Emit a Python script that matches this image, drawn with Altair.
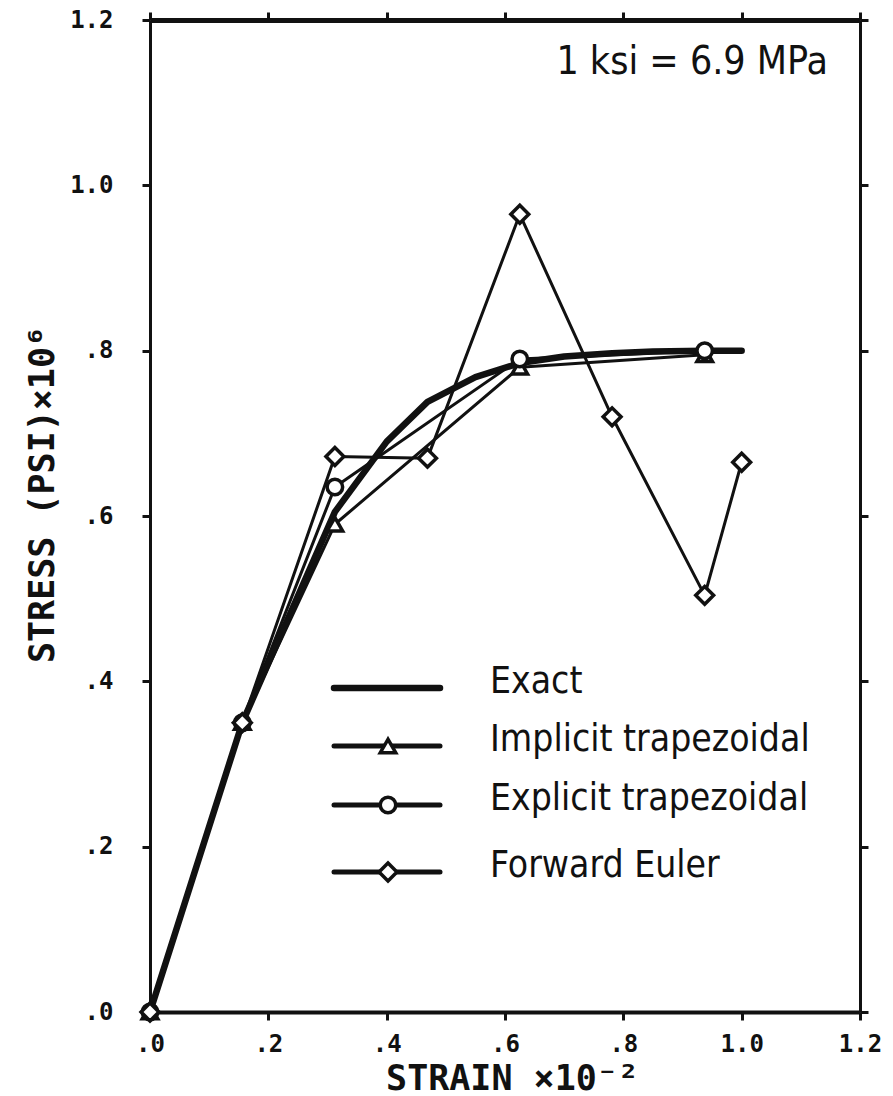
import altair as alt
import pandas as pd

# Strain (x 10^-2) and stress (psi x 10^6) for each solution method
exact_strain = [0.0, 0.156, 0.3125, 0.40, 0.469, 0.55, 0.625, 0.70, 0.781, 0.85, 0.9375, 1.0]
exact_stress = [0.0, 0.35, 0.605, 0.69, 0.738, 0.768, 0.785, 0.793, 0.797, 0.799, 0.80, 0.80]

implicit_strain = [0.0, 0.156, 0.3125, 0.625, 0.9375]
implicit_stress = [0.0, 0.35, 0.59, 0.78, 0.795]

explicit_strain = [0.0, 0.156, 0.3125, 0.625, 0.9375]
explicit_stress = [0.0, 0.35, 0.635, 0.79, 0.80]

euler_strain = [0.0, 0.156, 0.3125, 0.469, 0.625, 0.781, 0.9375, 1.0]
euler_stress = [0.0, 0.35, 0.672, 0.67, 0.965, 0.72, 0.504, 0.665]

axis_ticks = [0.0, 0.2, 0.4, 0.6, 0.8, 1.0, 1.2]
legend_labels = ["Exact", "Implicit trapezoidal", "Explicit trapezoidal", "Forward Euler"]
legend_shapes = [None, "triangle-up", "circle", "diamond"]
note_text = "1 ksi = 6.9 MPa"

W, H = 710, 992
INK = "#111111"
AXIS_FONT = "DejaVu Sans Mono"
TEXT_FONT = "Liberation Sans Narrow, DejaVu Sans Condensed, Liberation Sans, sans-serif"

label_expr = "datum.value >= 1 ? format(datum.value, '.1f') : '.' + format(datum.value * 10, 'd')"

xscale = alt.Scale(domain=[0, 1.2], nice=False, zero=False)
yscale = alt.Scale(domain=[0, 1.2], nice=False, zero=False)

common_axis = dict(
    values=axis_ticks, grid=False, tickSize=8, tickWidth=3, tickColor=INK,
    domainColor=INK, labelColor=INK, titleColor=INK, labelFlush=False,
    labelFont=AXIS_FONT, labelFontWeight="bold", labelFontSize=24,
    titleFont=AXIS_FONT, titleFontWeight="bold", titleFontSize=35,
    labelExpr=label_expr,
)

x_axis = alt.Axis(orient="bottom", domainWidth=4, labelPadding=12,
                  title="STRAIN  ×10⁻²", titleX=362, titleY=66,
                  titleAlign="center", titleBaseline="middle", **common_axis)
y_axis = alt.Axis(orient="left", domainWidth=3, labelPadding=29,
                  title="STRESS   (PSI)×10⁶", titleAngle=270, titleX=-108, titleY=474,
                  titleAlign="center", titleBaseline="middle", labelBaseline="middle",
                  **common_axis)


def series(xs, ys):
    return pd.DataFrame({"strain": xs, "stress": ys, "i": range(len(xs))})


def line_layer(df, width):
    return alt.Chart(df).mark_line(color=INK, strokeWidth=width, strokeJoin="round",
                                   strokeCap="round").encode(
        x=alt.X("strain:Q", scale=xscale, axis=x_axis),
        y=alt.Y("stress:Q", scale=yscale, axis=y_axis),
        order="i:O",
    )


def marker_layer(df, shape, size):
    return alt.Chart(df).mark_point(shape=shape, size=size, filled=True, fill="white",
                                    stroke=INK, strokeWidth=3.5, opacity=1).encode(
        x=alt.X("strain:Q", scale=xscale, axis=x_axis),
        y=alt.Y("stress:Q", scale=yscale, axis=y_axis),
    )


exact_df = series(exact_strain, exact_stress)
implicit_df = series(implicit_strain, implicit_stress)
explicit_df = series(explicit_strain, explicit_stress)
euler_df = series(euler_strain, euler_stress)

data_layers = [
    line_layer(implicit_df, 3),
    line_layer(explicit_df, 3),
    line_layer(euler_df, 3),
    line_layer(exact_df, 6.5),
    marker_layer(implicit_df, "triangle-up", 240),
    marker_layer(explicit_df, "circle", 240),
    marker_layer(euler_df, "diamond", 320),
]

# Legend drawn inside the plot area
legend_rows_y = [668, 726, 785, 852]
legend_layers = []
for label, shape, yy in zip(legend_labels, legend_shapes, legend_rows_y):
    one = pd.DataFrame({"label": [label]})
    legend_layers.append(
        alt.Chart(one).mark_rule(color=INK, strokeWidth=6.5 if shape is None else 5,
                                 strokeCap="round").encode(
            x=alt.value(184), x2=alt.value(290), y=alt.value(yy))
    )
    if shape is not None:
        legend_layers.append(
            alt.Chart(one).mark_point(shape=shape, size=320 if shape == "diamond" else 240,
                                      filled=True, fill="white", stroke=INK,
                                      strokeWidth=3.5, opacity=1).encode(
                x=alt.value(238), y=alt.value(yy))
        )
    legend_layers.append(
        alt.Chart(one).mark_text(font=TEXT_FONT, fontSize=37, color=INK, align="left",
                                 baseline="middle").encode(
            text="label:N", x=alt.value(340), y=alt.value(yy - 6))
    )

note = alt.Chart(pd.DataFrame({"t": [note_text]})).mark_text(
    font=TEXT_FONT, fontSize=39, color=INK, align="right", baseline="middle"
).encode(text="t:N", x=alt.value(678), y=alt.value(42))

main = alt.layer(*data_layers, *legend_layers, note)

# Mirror axes on the top and right edges (ticks only)
frame_axis = dict(values=axis_ticks, grid=False, labels=False, title=None,
                  tickSize=8, tickWidth=3, tickColor=INK, domainColor=INK)
frame = alt.Chart(exact_df).mark_point(opacity=0).encode(
    x=alt.X("strain:Q", scale=xscale,
            axis=alt.Axis(orient="top", domainWidth=5, **frame_axis)),
    y=alt.Y("stress:Q", scale=yscale,
            axis=alt.Axis(orient="right", domainWidth=3, **frame_axis)),
)

chart = alt.layer(main, frame).resolve_scale(
    x="independent", y="independent"
).properties(
    width=W, height=H,
    padding={"left": 150, "top": 20, "right": 33, "bottom": 84},
    autosize=alt.AutoSizeParams(type="none"),
    background="white",
).configure_view(stroke=None)

chart.save("out.html", embed_options={"renderer": "svg", "actions": False})
